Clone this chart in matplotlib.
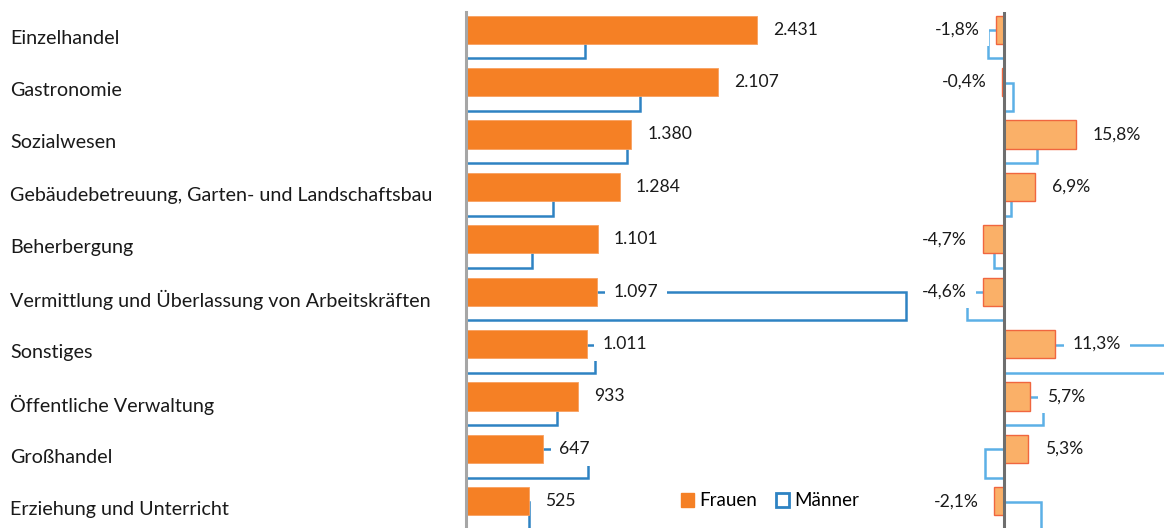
import matplotlib
matplotlib.use("Agg")
import matplotlib.pyplot as plt
from matplotlib.patches import Patch
import numpy as np

plt.rcParams['font.family'] = ['Lato', 'DejaVu Sans']

categories = ["Einzelhandel", "Gastronomie", "Sozialwesen",
              "Gebäudebetreuung, Garten- und Landschaftsbau", "Beherbergung",
              "Vermittlung und Überlassung von Arbeitskräften", "Sonstiges",
              "Öffentliche Verwaltung", "Großhandel", "Erziehung und Unterricht"]
frauen = [2431, 2107, 1380, 1284, 1101, 1097, 1011, 933, 647, 525]
maenner = [994, 1454, 1345, 727, 551, 3676, 1078, 760, 1019, 526]
frauen_pct = [-1.8, -0.4, 15.8, 6.9, -4.7, -4.6, 11.3, 5.7, 5.3, -2.1]
maenner_pct = [-3.6, 1.9, 7.2, 1.5, -2.3, -8.1, 40.0, 8.6, -4.2, 8.1]

def fmt_int(v):
    return f"{v:,}".replace(",", ".")

def fmt_pct(v):
    return f"{v:.1f}%".replace(".", ",")

W, H = 1164, 528
fig = plt.figure(figsize=(W / 100, H / 100), dpi=100)

def px_axes(x0, y0, x1, y1):
    return fig.add_axes([x0 / W, 1 - y1 / H, (x1 - x0) / W, (y1 - y0) / H])

FS_CAT = 14.2
FS = 12.6
C_OR = "#F58025"
C_BL = "#2E83C3"
C_OR2 = "#FAB068"
C_OR2E = "#F0663F"
C_BL2 = "#5CB0E6"
TXT = "#1a1a1a"

n = len(categories)
y = np.arange(n)
off = 0.14
h = 0.54
ylim = ((528 - 37) / 52.4, -(37 - 12) / 52.4)
BOX = dict(boxstyle="square,pad=0.5", fc="white", ec="none")

# left panel
axL = px_axes(466, 12, 940, 528)
axL.set_ylim(*ylim)
axL.set_xlim(0, 474 / 0.1197)
axL.barh(y + off, maenner, height=h, facecolor="white", edgecolor=C_BL, linewidth=1.8, zorder=1)
axL.barh(y - off, frauen, height=h, color=C_OR, edgecolor="#F8A060", linewidth=0.6, zorder=2)
for i in range(n):
    axL.annotate(fmt_int(frauen[i]), (frauen[i], y[i] - off), xytext=(16, 0),
                 textcoords="offset pixels", va="center", ha="left", fontsize=FS,
                 color=TXT, zorder=5, bbox=BOX)
for s in ["top", "right", "bottom"]:
    axL.spines[s].set_visible(False)
axL.spines["left"].set_color("#A6A6A6")
axL.spines["left"].set_linewidth(2.2)
axL.spines["left"].set_zorder(3)
axL.set_xticks([])
axL.set_yticks([])
axL.patch.set_alpha(0)

# category labels
for i in range(n):
    fig.text(10 / W, 1 - (38 + 52.4 * i) / H, categories[i], ha="left", va="center",
             fontsize=FS_CAT, color=TXT)

# right panel
axR = px_axes(900, 12, 1164, 528)
axR.set_ylim(*ylim)
axR.set_xlim(-104 / 4.55, 160 / 4.55)
axR.barh(y + off, maenner_pct, height=h, facecolor="none", edgecolor=C_BL2, linewidth=1.8, zorder=1)
axR.barh(y - off, frauen_pct, height=h, color=C_OR2, edgecolor=C_OR2E, linewidth=1.0, zorder=2)
for i in range(n):
    v = frauen_pct[i]
    if v >= 0:
        xt, ha = 17, "left"
    else:
        xt, ha = -16, "right"
    axR.annotate(fmt_pct(v), (v, y[i] - off), xytext=(xt, 0),
                 textcoords="offset pixels", va="center", ha=ha, fontsize=FS,
                 color=TXT, zorder=5, bbox=BOX)
axR.axvline(0, color="#6E6E6E", linewidth=2.2, zorder=3)
for s in axR.spines.values():
    s.set_visible(False)
axR.set_xticks([])
axR.set_yticks([])
axR.patch.set_alpha(0)

handles = [Patch(facecolor=C_OR, edgecolor=C_OR, label="Frauen"),
           Patch(facecolor="white", edgecolor=C_BL, linewidth=2, label="Männer")]
fig.legend(handles=handles, loc="center", bbox_to_anchor=(770 / W, 1 - 501 / H),
           ncol=2, frameon=False, fontsize=13.5, handlelength=0.7, handleheight=0.7,
           handletextpad=0.3, columnspacing=1.0, borderaxespad=0)

fig.savefig("out.png", dpi=100)
